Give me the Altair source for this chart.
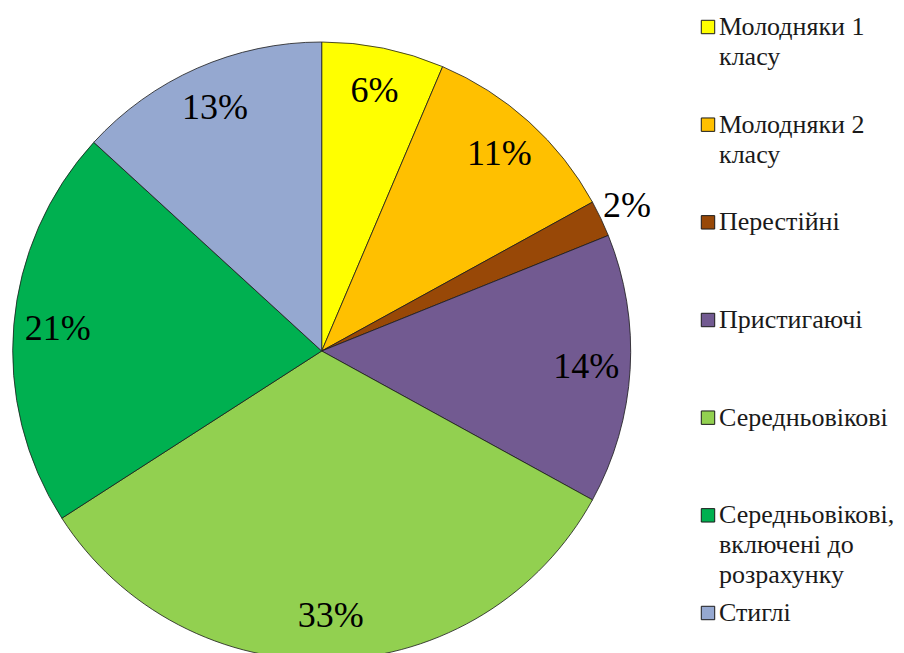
import altair as alt
import pandas as pd

categories = [
    "Молодняки 1\nкласу",
    "Молодняки 2\nкласу",
    "Перестійні",
    "Пристигаючі",
    "Середньовікові",
    "Середньовікові,\nвключені до\nрозрахунку",
    "Стиглі",
]
values = [6.4, 10.6, 1.9, 14.1, 32.9, 20.9, 13.2]
colors = ["#FFFF00", "#FFC000", "#984807", "#725A91", "#92D050", "#00B050", "#95A8D0"]

df = pd.DataFrame({"idx": list(range(len(categories))), "cat": categories, "value": values})

SERIF = "Liberation Serif"
CX, CY, R = 313.7, 343, 309

color = alt.Color("cat:N", scale=alt.Scale(domain=categories, range=colors), legend=None)

base = alt.Chart(df)

arcs = base.mark_arc(outerRadius=R, stroke="#1a1a1a", strokeWidth=0.8).encode(
    theta=alt.Theta("value:Q", stack=True),
    color=color,
    order=alt.Order("idx:Q"),
    x=alt.value(CX),
    y=alt.value(CY),
)

pct = base.transform_calculate(pct="format(datum.value, '.0f') + '%'")

labels_in = pct.mark_text(radius=265, font=SERIF, fontSize=36, color="black",
                          baseline="middle", align="center").encode(
    theta=alt.Theta("value:Q", stack=True),
    text="pct:N",
    order=alt.Order("idx:Q"),
    opacity=alt.condition("datum.value < 5", alt.value(0), alt.value(1)),
    x=alt.value(CX),
    y=alt.value(CY),
)

labels_out = pct.mark_text(radius=338, font=SERIF, fontSize=36, color="black",
                           baseline="middle", align="center").encode(
    theta=alt.Theta("value:Q", stack=True),
    text="pct:N",
    order=alt.Order("idx:Q"),
    opacity=alt.condition("datum.value < 5", alt.value(1), alt.value(0)),
    x=alt.value(CX),
    y=alt.value(CY),
)

ypos = alt.Y("idx:Q", scale=alt.Scale(domain=[0, 6], range=[19, 605]), axis=None)

leg_sq = base.mark_square(size=180, stroke="#1a1a1a", strokeWidth=1, opacity=1).encode(
    x=alt.value(700),
    y=ypos,
    color=color,
)

leg_txt = base.transform_calculate(
    lines="split(datum.cat, '\\n')"
).mark_text(font=SERIF, fontSize=26, lineHeight=30, align="left", baseline="middle", color="#1a1a1a").encode(
    x=alt.value(711),
    y=ypos,
    text="lines:N",
)

chart = alt.layer(arcs, labels_in, labels_out, leg_sq, leg_txt).properties(
    width=888, height=645, autosize="none", padding=0
).configure_view(stroke=None)

chart.save("out.html", embed_options={"renderer": "svg", "actions": False})
